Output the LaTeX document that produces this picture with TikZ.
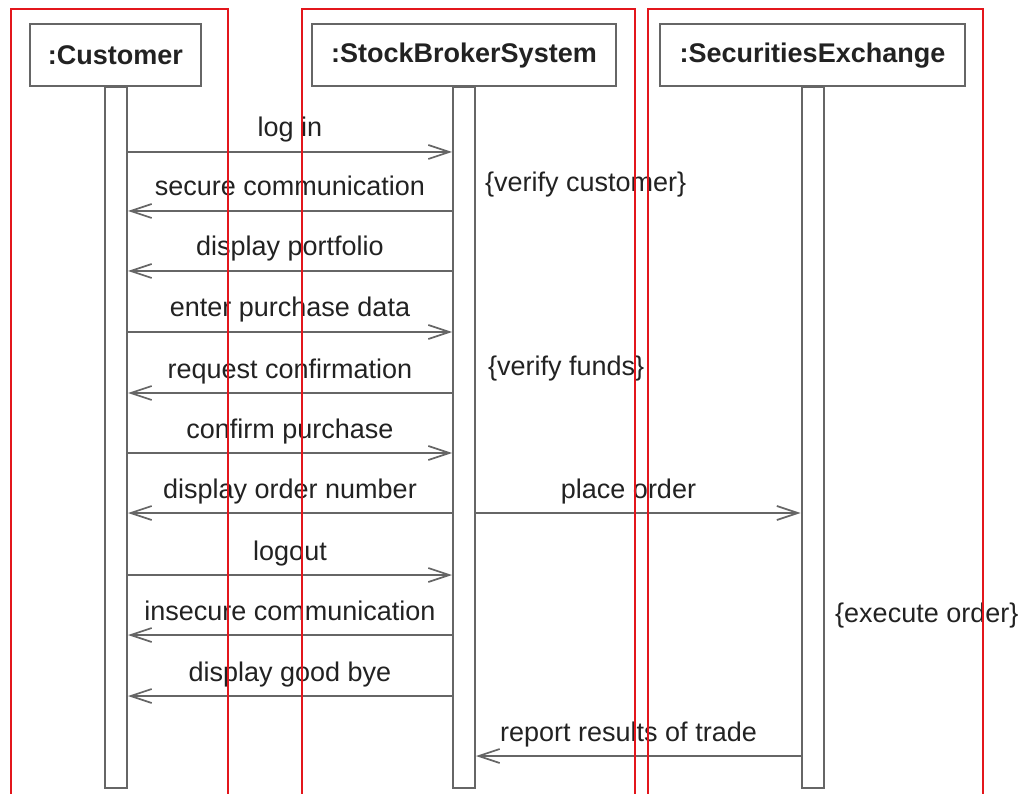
\documentclass[tikz,border=0pt]{standalone}
\usepackage{fontspec}
\setmainfont{Liberation Sans}
\usetikzlibrary{arrows.meta}
\definecolor{ink}{HTML}{222222}
\definecolor{wire}{HTML}{666666}
\definecolor{frame}{HTML}{E3161C}
\begin{document}
\begin{tikzpicture}[x=1pt,y=-1pt,
  font=\fontsize{27}{32}\selectfont, text=ink,
  head/.style={draw=wire, line width=2pt, fill=white, minimum height=62pt,
    inner sep=0pt, font=\fontsize{27}{32}\selectfont\bfseries},
  bar/.style={draw=wire, line width=2pt, fill=white, minimum width=22pt,
    minimum height=701pt, inner sep=0pt},
  msg/.style={draw=wire, line width=1.7pt,
    -{Straight Barb[length=21pt,width=14pt,line width=1.7pt]}},
  lbl/.style={anchor=base, inner sep=0pt, yshift=15pt},
  note/.style={anchor=base west, inner sep=0pt},
  lane/.style={draw=frame, line width=2pt}]
\useasboundingbox (0,0) rectangle (1023,794);
\clip (0,0) rectangle (1023,794);

% lifeline activation bars
\node[bar] (cbar) at (116,437.5) {};
\node[bar] (sbar) at (464,437.5) {};
\node[bar] (xbar) at (812.5,437.5) {};

% object heads
\node[head, minimum width=171pt] (cust) at (115.5,55.5) {\raisebox{-1.5pt}{:Customer}};
\node[head, minimum width=304pt] (sbs) at (464,55.5) {\raisebox{-1.5pt}{:StockBrokerSystem}};
\node[head, minimum width=305pt] (sex) at (812.5,55.5) {\raisebox{-1.5pt}{:SecuritiesExchange}};

% messages between customer and broker
\draw[msg] (cbar.east |- 0,152) -- (sbar.west |- 0,152) node[lbl, midway] {log in};
\draw[msg] (sbar.west |- 0,211) -- (cbar.east |- 0,211) node[lbl, midway] {secure communication};
\draw[msg] (sbar.west |- 0,271) -- (cbar.east |- 0,271) node[lbl, midway] {display portfolio};
\draw[msg] (cbar.east |- 0,332) -- (sbar.west |- 0,332) node[lbl, midway] {enter purchase data};
\draw[msg] (sbar.west |- 0,393) -- (cbar.east |- 0,393) node[lbl, midway] {request confirmation};
\draw[msg] (cbar.east |- 0,453) -- (sbar.west |- 0,453) node[lbl, midway] {confirm purchase};
\draw[msg] (sbar.west |- 0,513) -- (cbar.east |- 0,513) node[lbl, midway] {display order number};
\draw[msg] (cbar.east |- 0,575) -- (sbar.west |- 0,575) node[lbl, midway] {logout};
\draw[msg] (sbar.west |- 0,635) -- (cbar.east |- 0,635) node[lbl, midway] {insecure communication};
\draw[msg] (sbar.west |- 0,696) -- (cbar.east |- 0,696) node[lbl, midway] {display good bye};

% messages between broker and exchange
\draw[msg] (sbar.east |- 0,513) -- (xbar.west |- 0,513) node[lbl, pos=0.47] {place order};
\draw[msg] (xbar.west |- 0,756) -- (sbar.east |- 0,756) node[lbl, pos=0.53] {report results of trade};

% constraints
\node[note] (vc) at (485,192) {\{verify customer\}};
\node[note] (vf) at (488,375) {\{verify funds\}};
\node[note] (eo) at (835,622) {\{execute order\}};

% swimlane frames
\draw[lane] (11,800) -- (11,9) -- (228,9) -- (228,800);
\draw[lane] (302,800) -- (302,9) -- (635,9) -- (635,800);
\draw[lane] (648,800) -- (648,9) -- (983,9) -- (983,800);
\end{tikzpicture}
\end{document}
